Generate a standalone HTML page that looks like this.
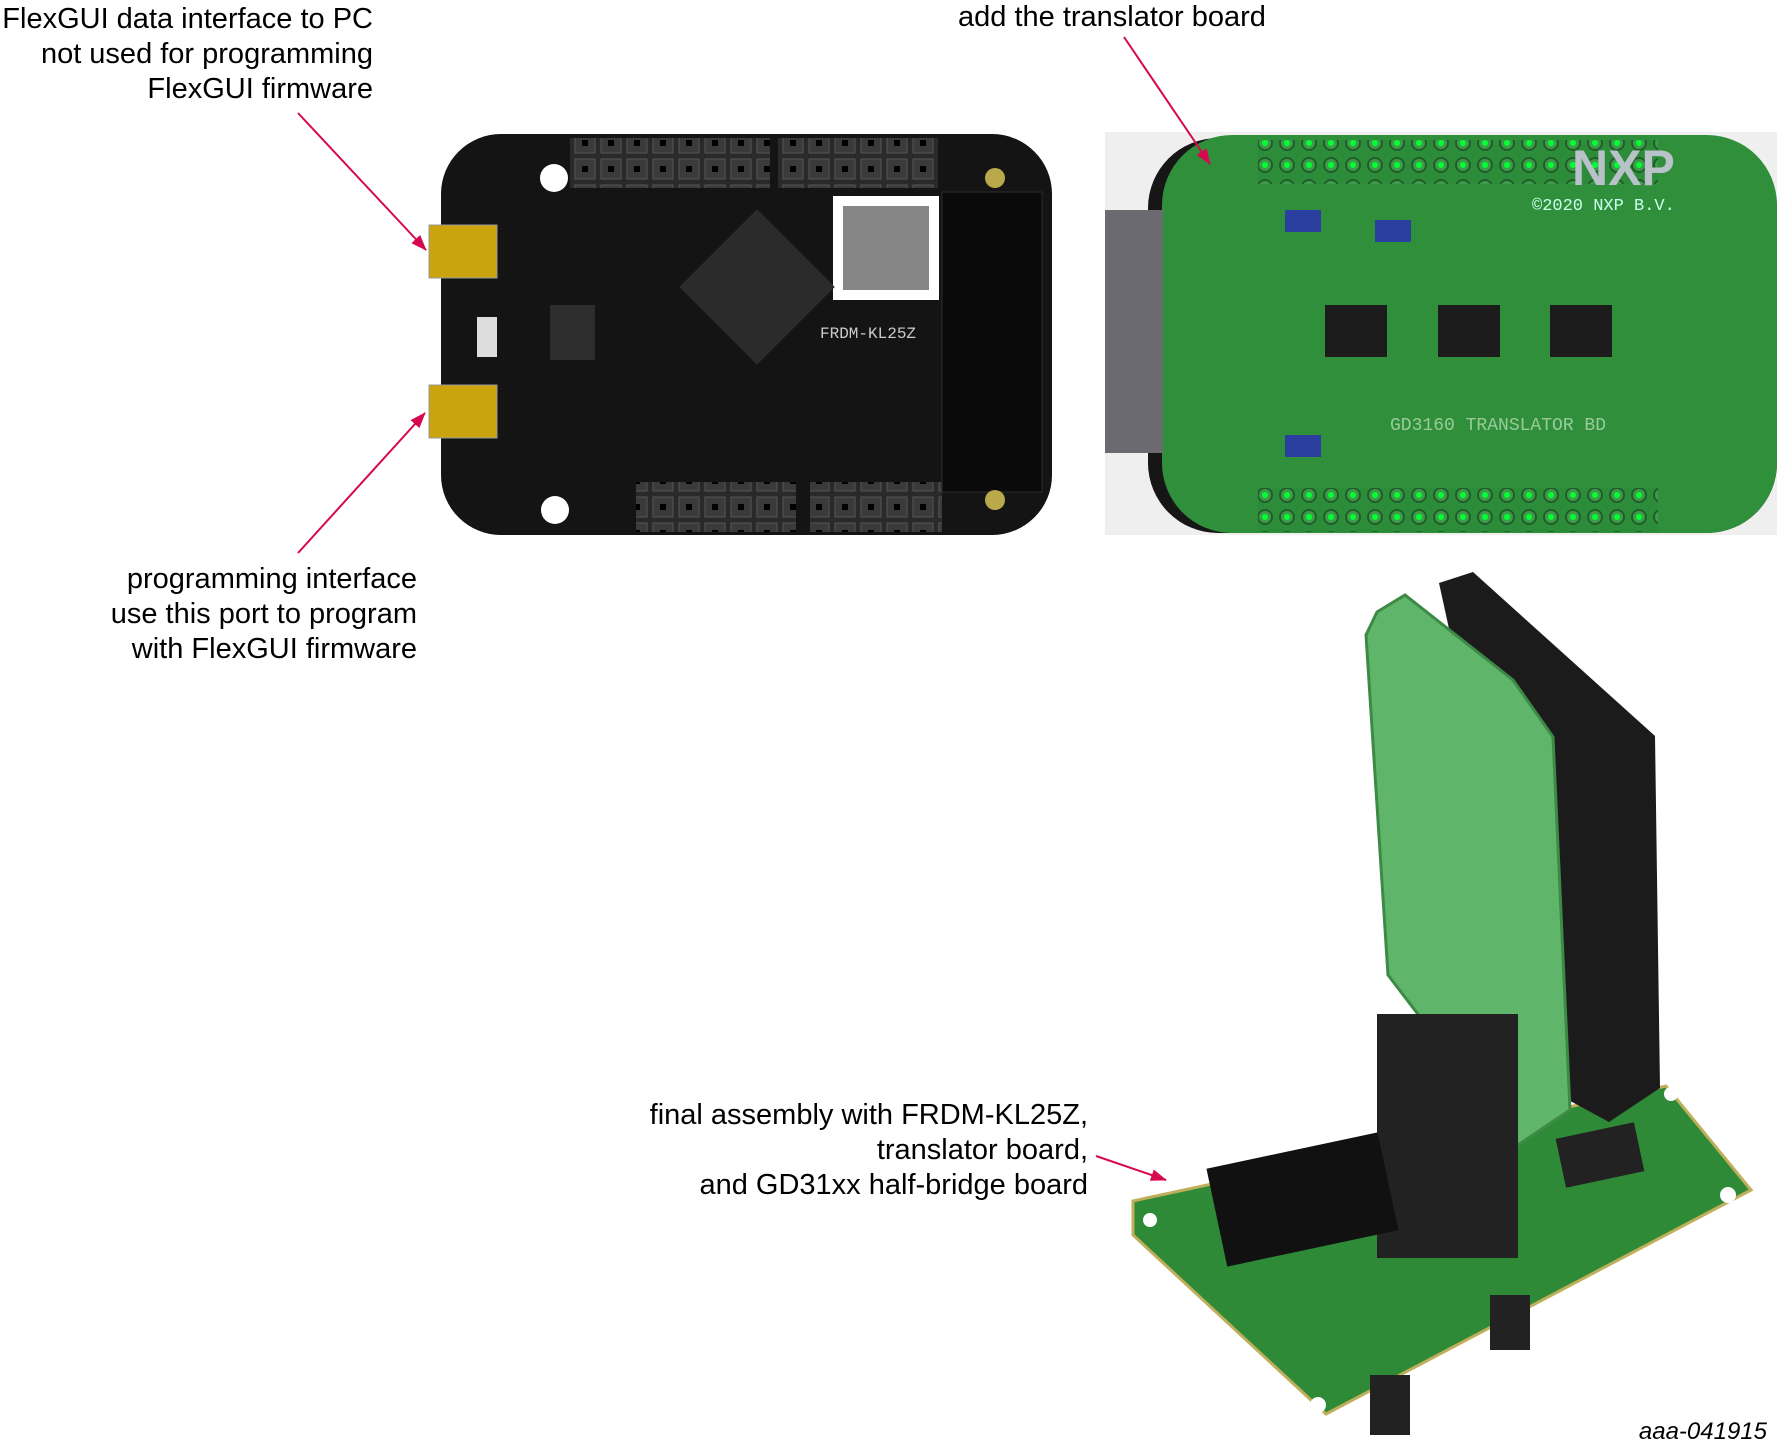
<!DOCTYPE html>
<html><head><meta charset="utf-8"><style>
html,body{margin:0;padding:0;background:#fff}
body{width:1777px;height:1449px;position:relative;overflow:hidden;font-family:"Liberation Sans",Arial,sans-serif}
.t{position:absolute;font-size:29px;line-height:35px;color:#000;text-align:right;white-space:nowrap}
</style></head><body>
<svg width="1777" height="1449" viewBox="0 0 1777 1449" style="position:absolute;left:0;top:0">
<defs>
<marker id="ar" markerWidth="16" markerHeight="12" refX="15" refY="6" orient="auto" markerUnits="userSpaceOnUse"><path d="M0,0 L16,6 L0,12 z" fill="#d6084f"/></marker>
<pattern id="hdr" width="26" height="26" patternUnits="userSpaceOnUse"><rect width="26" height="26" fill="#2a2a2a"/><rect x="3" y="3" width="20" height="20" fill="#3a3a3a" stroke="#555"/><rect x="10" y="10" width="6" height="6" fill="#000"/></pattern>
<pattern id="gh" width="22" height="22" patternUnits="userSpaceOnUse"><rect width="22" height="22" fill="#2c8c3a"/><circle cx="11" cy="11" r="7" fill="#3f9a4a" stroke="#1f5e28" stroke-width="2"/><circle cx="11" cy="11" r="3" fill="#0f3"/></pattern>
</defs>
<rect x="441" y="134" width="611" height="401" rx="60" fill="#141414"/>
<rect x="570" y="138" width="200" height="50" fill="url(#hdr)"/>
<rect x="778" y="138" width="160" height="50" fill="url(#hdr)"/>
<rect x="636" y="482" width="160" height="50" fill="url(#hdr)"/>
<rect x="810" y="482" width="132" height="50" fill="url(#hdr)"/>
<rect x="942" y="192" width="100" height="300" fill="#0a0a0a" stroke="#2c2c2c"/>
<rect x="833" y="196" width="106" height="104" fill="#fff"/>
<rect x="843" y="206" width="86" height="84" fill="#222" opacity=".55"/>
<rect x="702" y="232" width="110" height="110" fill="#2b2b2b" transform="rotate(45 757 287)"/>
<rect x="550" y="305" width="45" height="55" fill="#2d2d2d"/>
<circle cx="995" cy="178" r="10" fill="#b9a94a"/><circle cx="995" cy="500" r="10" fill="#b9a94a"/>
<circle cx="554" cy="178" r="14" fill="#fff"/><circle cx="555" cy="510" r="14" fill="#fff"/>
<rect x="477" y="317" width="20" height="40" fill="#ddd"/>
<rect x="429" y="225" width="68" height="53" fill="#caa40d" stroke="#999"/>
<rect x="429" y="385" width="68" height="53" fill="#caa40d" stroke="#999"/>
<text x="820" y="338" font-family="Liberation Mono" font-size="16" fill="#ccc">FRDM-KL25Z</text>
<rect x="1105" y="132" width="672" height="403" fill="#efefef"/>
<rect x="1148" y="138" width="629" height="395" rx="70" fill="#161616"/>
<rect x="1162" y="135" width="615" height="398" rx="70" fill="#2f8f3b"/>
<rect x="1105" y="210" width="58" height="243" fill="#6b6a70"/>
<rect x="1258" y="140" width="400" height="44" fill="url(#gh)"/>
<rect x="1258" y="488" width="400" height="44" fill="url(#gh)"/>
<rect x="1325" y="305" width="62" height="52" fill="#1c1c1c"/>
<rect x="1438" y="305" width="62" height="52" fill="#1c1c1c"/>
<rect x="1550" y="305" width="62" height="52" fill="#1c1c1c"/>
<rect x="1285" y="210" width="36" height="22" fill="#2a3fa0"/><rect x="1375" y="220" width="36" height="22" fill="#2a3fa0"/><rect x="1285" y="435" width="36" height="22" fill="#2a3fa0"/>
<text x="1572" y="185" font-family="Liberation Sans" font-weight="bold" font-size="50" fill="#b8c2c8">NXP</text>
<text x="1532" y="210" font-family="Liberation Mono" font-size="17" fill="#cfe">©2020 NXP B.V.</text>
<text x="1390" y="430" font-family="Liberation Mono" font-size="18" fill="#9c9">GD3160 TRANSLATOR BD</text>
<polygon points="1133,1201 1666,1086 1751,1190 1326,1414 1133,1235" fill="#2f8a38" stroke="#bfae5a" stroke-width="3"/>
<polygon points="1439,583 1473,572 1655,736 1660,1088 1609,1122 1550,1090" fill="#1b1b1b"/>
<polygon points="1377,612 1405,595 1513,680 1553,737 1570,1110 1518,1145 1388,975 1366,635" fill="#5fb56a" stroke="#3d8a46" stroke-width="3"/>
<rect x="1377" y="1014" width="141" height="244" fill="#222"/>
<rect x="1215" y="1150" width="175" height="100" fill="#111" transform="rotate(-12 1300 1200)"/>
<rect x="1560" y="1130" width="80" height="50" fill="#222" transform="rotate(-12 1600 1155)"/>
<rect x="1490" y="1295" width="40" height="55" fill="#222"/><rect x="1370" y="1375" width="40" height="60" fill="#222"/>
<circle cx="1318" cy="1405" r="8" fill="#fff"/><circle cx="1728" cy="1195" r="8" fill="#fff"/><circle cx="1671" cy="1094" r="7" fill="#fff"/><circle cx="1150" cy="1220" r="7" fill="#fff"/>
<g stroke="#d6084f" stroke-width="2" fill="none">
<line x1="298" y1="113" x2="426" y2="250" marker-end="url(#ar)"/>
<line x1="298" y1="553" x2="425" y2="413" marker-end="url(#ar)"/>
<line x1="1124" y1="37" x2="1210" y2="164" marker-end="url(#ar)"/>
<line x1="1096" y1="1156" x2="1166" y2="1180" marker-end="url(#ar)"/>
</g>
</svg>
<div class="t" style="right:1404px;top:2px">FlexGUI data interface to PC<br>not used for programming<br>FlexGUI firmware</div>
<div class="t" style="left:958px;top:0px;text-align:left">add the translator board</div>
<div class="t" style="right:1360px;top:562px">programming interface<br>use this port to program<br>with FlexGUI firmware</div>
<div class="t" style="right:689px;top:1098px">final assembly with FRDM-KL25Z,<br>translator board,<br>and GD31xx half-bridge board</div>
<div class="t" style="right:10px;top:1418px;font-size:24px;line-height:28px;font-style:italic">aaa-041915</div>
</body></html>
